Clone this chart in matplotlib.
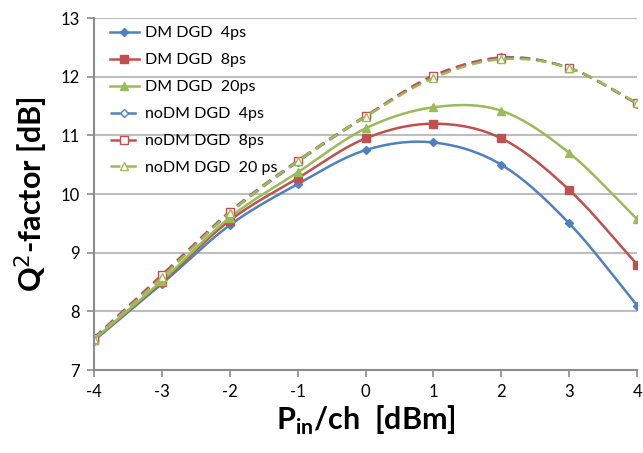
import matplotlib.pyplot as plt
import numpy as np

p_in = [-4, -3, -2, -1, 0, 1, 2, 3, 4]

dm_4ps = [7.50, 8.47, 9.47, 10.17, 10.75, 10.88, 10.50, 9.50, 8.10]
dm_8ps = [7.52, 8.50, 9.55, 10.27, 10.95, 11.20, 10.95, 10.07, 8.80]
dm_20ps = [7.52, 8.52, 9.60, 10.37, 11.12, 11.48, 11.42, 10.70, 9.57]
nodm_4ps = [7.55, 8.60, 9.68, 10.55, 11.32, 12.00, 12.33, 12.15, 11.54]
nodm_8ps = [7.54, 8.62, 9.70, 10.57, 11.33, 12.02, 12.32, 12.15, 11.55]
nodm_20ps = [7.53, 8.58, 9.68, 10.56, 11.32, 11.98, 12.30, 12.15, 11.55]

labels = ['DM DGD  4ps', 'DM DGD  8ps', 'DM DGD  20ps',
          'noDM DGD  4ps', 'noDM DGD  8ps', 'noDM DGD  20 ps']

blue, red, green = '#4F81BD', '#C0504D', '#9BBB59'


def smooth(x, y, n=20):
    # Catmull-Rom curve through the points, like Excel's smoothed line
    x = np.asarray(x, float)
    y = np.asarray(y, float)
    px = np.concatenate([[2 * x[0] - x[1]], x, [2 * x[-1] - x[-2]]])
    py = np.concatenate([[2 * y[0] - y[1]], y, [2 * y[-1] - y[-2]]])
    t = np.linspace(0, 1, n, endpoint=False)
    xs, ys = [], []
    for i in range(1, len(px) - 2):
        for arr, out in ((px, xs), (py, ys)):
            p0, p1, p2, p3 = arr[i - 1], arr[i], arr[i + 1], arr[i + 2]
            out.extend(0.5 * (2 * p1 + (-p0 + p2) * t
                              + (2 * p0 - 5 * p1 + 4 * p2 - p3) * t ** 2
                              + (-p0 + 3 * p1 - 3 * p2 + p3) * t ** 3))
    xs.append(x[-1])
    ys.append(y[-1])
    return xs, ys


plt.rcParams['font.family'] = ['Lato', 'DejaVu Sans']
plt.rcParams['axes.unicode_minus'] = False
fig = plt.figure(figsize=(6.43, 4.53), dpi=100)
ax = fig.add_axes([0.146, 0.183, 0.845, 0.777])

series = [
    (dm_4ps, blue, 'D', '-', True),
    (dm_8ps, red, 's', '-', True),
    (dm_20ps, green, '^', '-', True),
    (nodm_4ps, blue, 'D', '--', False),
    (nodm_8ps, red, 's', '--', False),
    (nodm_20ps, green, '^', '--', False),
]

for (vals, col, mk, ls, filled), lab in zip(series, labels):
    sx, sy = smooth(p_in, vals)
    kw = dict(dashes=(4, 2.5)) if ls == '--' else {}
    ax.plot(sx, sy, color=col, ls=ls, lw=1.8, **kw)
    ms = 4.5 if mk == 'D' else 6
    ax.plot(p_in, vals, ls='none', marker=mk, ms=ms,
            mfc=col if filled else 'white', mec=col, mew=1)
    ax.plot([], [], color=col, ls=ls, lw=1.8, marker=mk, ms=ms,
            mfc=col if filled else 'white', mec=col, label=lab, **kw)

ax.set_xlim(-4, 4)
ax.set_ylim(7, 13)
ax.set_xticks(p_in)
ax.set_yticks(range(7, 14))
ax.grid(axis='y', color='#BEBEBE', lw=1.5)
ax.set_axisbelow(True)
for s in ['top', 'right']:
    ax.spines[s].set_visible(False)
for s in ['left', 'bottom']:
    ax.spines[s].set_color('#8C8C8C')
    ax.spines[s].set_linewidth(1.5)
ax.tick_params(direction='out', length=5, width=1.2, color='#8C8C8C',
               labelsize=12, pad=5)

ax.set_ylabel('Q$^2$-factor [dB]', fontsize=22, fontweight='bold', labelpad=8)
ax.set_xlabel('P$_{\\mathregular{in}}$/ch  [dBm]', fontsize=22, fontweight='bold', labelpad=3)

ax.legend(loc='upper left', frameon=False, fontsize=11.5, handlelength=1.8,
          labelspacing=0.8, borderaxespad=0.1, handletextpad=0.4,
          bbox_to_anchor=(0.015, 1.0))

fig.savefig('out.png', dpi=100)
